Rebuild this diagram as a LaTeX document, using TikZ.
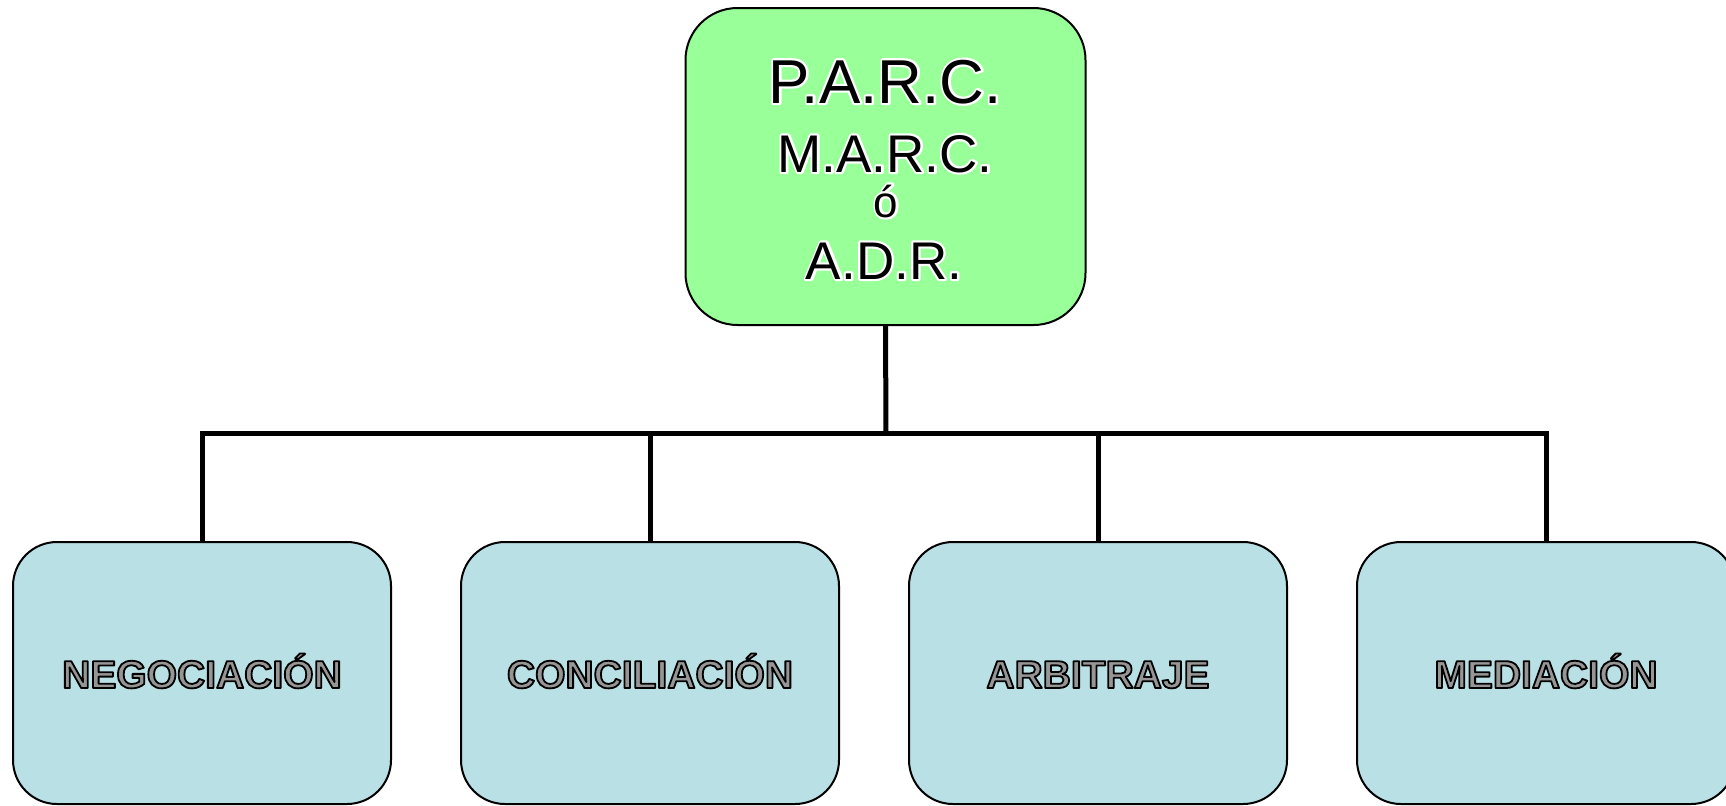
\documentclass[tikz,border=0pt]{standalone}
\usepackage{fontspec}
\setmainfont{Liberation Sans}
\definecolor{verde}{RGB}{153,255,153}
\definecolor{celeste}{RGB}{185,224,228}
\definecolor{gris}{RGB}{150,150,150}
% texto trazado: grosor, color del trazo (r g b), color del relleno, texto
\newcommand{\trazo}[4]{{\color{#3}\special{pdf:literal direct 2 Tr 1 j #1 w #2 RG}#4\special{pdf:literal direct 0 Tr}}}
% contorno blanco por fuera
\newcommand{\contorno}[1]{\makebox[0pt][l]{\trazo{2.2}{1 1 1}{white}{#1}}#1}
\tikzset{
    caja/.style={draw=black, line width=1pt, rounded corners=22pt, fill=celeste,
        minimum width=189pt, minimum height=131pt, text height=15pt, text depth=0pt,
        font=\bfseries\fontsize{19.5}{22}\selectfont},
    linea/.style={line width=2.5pt, black},
}

\begin{document}
\begin{tikzpicture}[x=0.5pt,y=-0.5pt]
        \useasboundingbox (0,0) rectangle (1726,805);
        \node[draw=black, line width=1pt, fill=verde, rounded corners=26pt, minimum width=200pt, minimum height=158.5pt] (adr) at (885.5,166.5) {};
        \node[anchor=base, font=\fontsize{31}{31}\selectfont] (parc) at (885,103) {\contorno{P.A.R.C.}};
        \node[anchor=base, font=\fontsize{26.5}{26.5}\selectfont] (marc) at (885,172) {\contorno{M.A.R.C.}};
        \node[anchor=base, font=\fontsize{22}{22}\selectfont] (o) at (886,217) {\contorno{ó}};
        \node[anchor=base, font=\fontsize{26.5}{26.5}\selectfont] (sigla) at (884,279) {\contorno{A.D.R.}};

        % Cajas de abajo
        \node[caja] (neg) at (202,673) {\trazo{0.9}{0 0 0}{gris}{NEGOCIACIÓN}};
        \node[caja] (con) at (650,673) {\trazo{0.9}{0 0 0}{gris}{CONCILIACIÓN}};
        \node[caja] (arb) at (1098,673) {\trazo{0.9}{0 0 0}{gris}{ARBITRAJE}};
        \node[caja] (med) at (1546,673) {\trazo{0.9}{0 0 0}{gris}{MEDIACIÓN}};

        \coordinate (bus) at (886,433);
        \draw[linea] (adr.south) -- (bus);
        \draw[linea] (neg.north) |- (bus) -| (med.north);
        \draw[linea] (con.north) -- (con.north |- bus);
        \draw[linea] (arb.north) -- (arb.north |- bus);
\end{tikzpicture}
\end{document}
